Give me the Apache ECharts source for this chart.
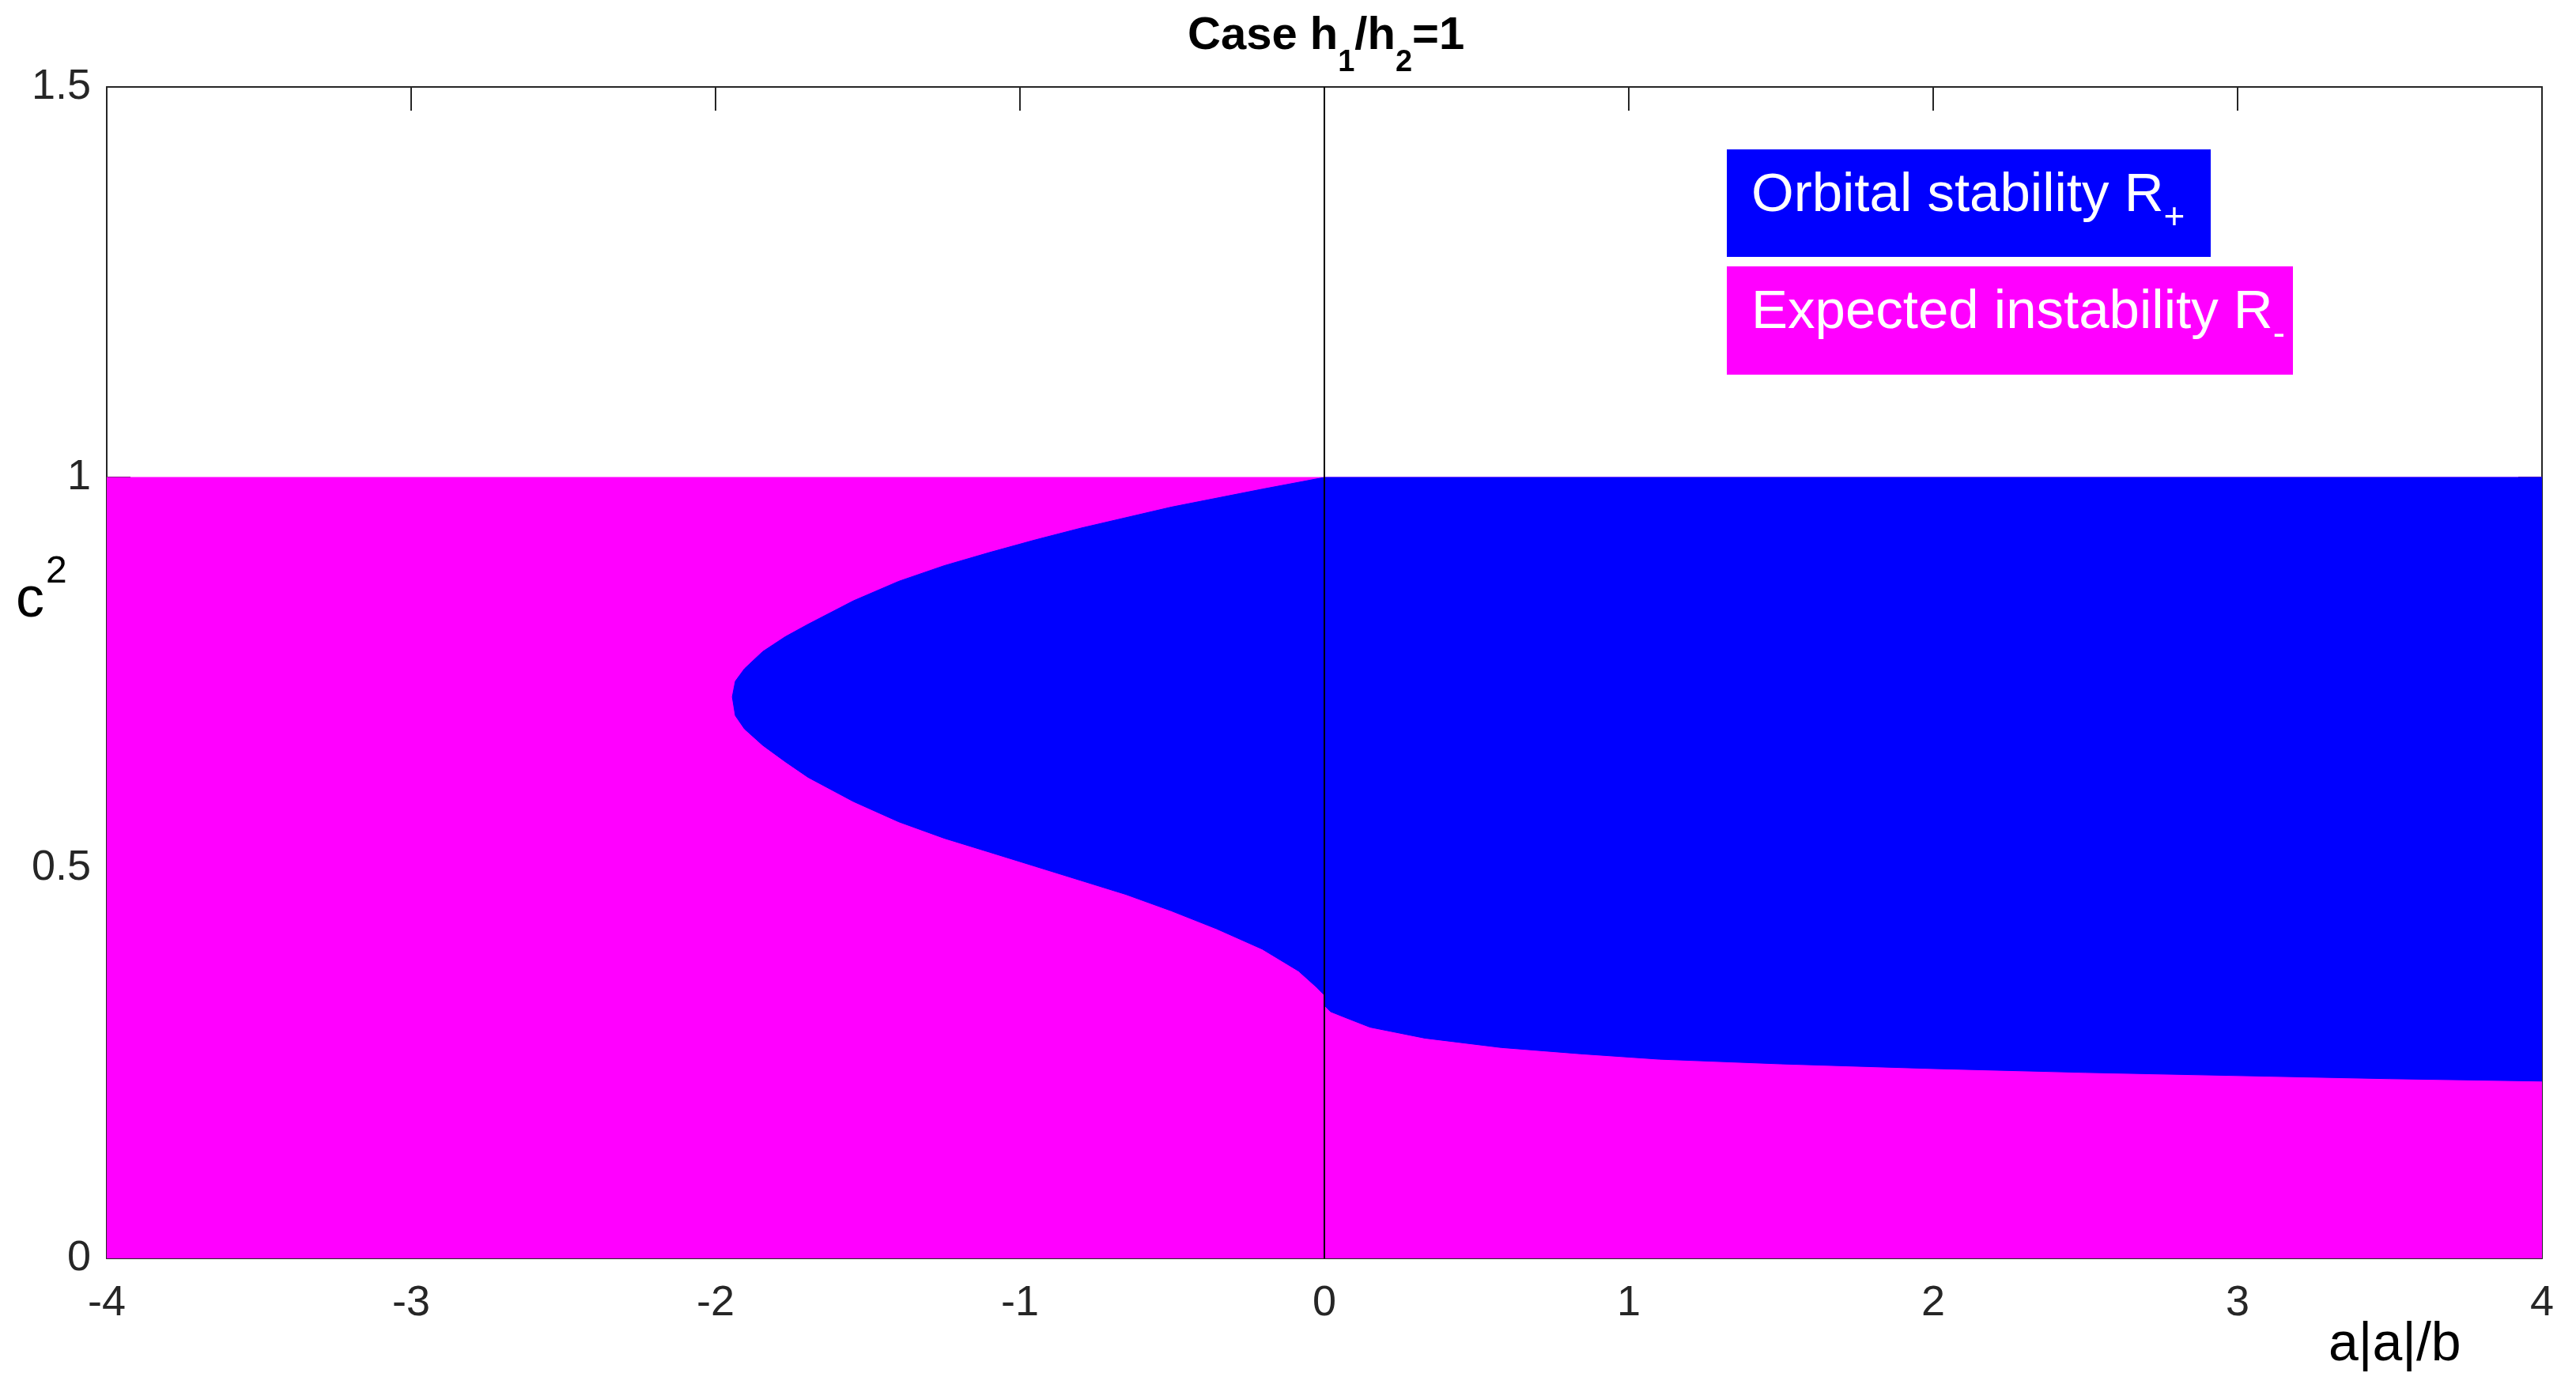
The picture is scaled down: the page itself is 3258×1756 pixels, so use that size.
<!DOCTYPE html>
<html>
<head>
<meta charset="utf-8">
<script src="https://cdn.jsdelivr.net/npm/echarts@6/dist/echarts.min.js"></script>
<style>
html,body{margin:0;padding:0;background:#fff;}
#chart{width:3258px;height:1756px;}
</style>
</head>
<body>
<div id="chart"></div>
<script>
// ---- data ----
const xTicks = [-4, -3, -2, -1, 0, 1, 2, 3, 4];
const yTicks = [0, 0.5, 1, 1.5];

// region where c^2 <= 1 (expected instability background)
const fullX = [-4, 4];
const fullTop = [1, 1];
const fullBottom = [0, 0];

// R+ boundary, upper-left branch (from (0,1) to the nose)
const upperLeftX = [0, -0.204, -0.503, -0.801, -0.950, -1.099, -1.249, -1.398, -1.547, -1.696, -1.771, -1.845, -1.905, -1.935, -1.945];
const upperLeftY = [1.000, 0.985, 0.962, 0.935, 0.920, 0.904, 0.887, 0.867, 0.842, 0.812, 0.796, 0.777, 0.755, 0.739, 0.719];
// R+ boundary, lower-left branch (from the nose to x=0)
const lowerLeftX = [-1.945, -1.935, -1.905, -1.845, -1.771, -1.696, -1.547, -1.398, -1.249, -1.099, -0.950, -0.801, -0.652, -0.503, -0.354, -0.204, -0.085, -0.025, 0];
const lowerLeftY = [0.719, 0.695, 0.678, 0.657, 0.636, 0.616, 0.585, 0.559, 0.538, 0.520, 0.502, 0.484, 0.466, 0.445, 0.422, 0.396, 0.368, 0.347, 0.337];
// R+ lower boundary for a|a|/b > 0
const rightX = [0, 0.02, 0.065, 0.15, 0.33, 0.58, 0.84, 1.1, 1.5, 2, 2.5, 3, 3.5, 4];
const rightY = [0.324, 0.316, 0.309, 0.296, 0.282, 0.270, 0.262, 0.255, 0.249, 0.243, 0.238, 0.234, 0.230, 0.227];
const topEdgeX = [4, 0];
const topEdgeY = [1, 1];

const zeroLineX = [0, 0];
const zeroLineY = [0, 1.5];

// ---- build polygons ----
function pairs(xs, ys) { return xs.map((x, i) => [x, ys[i]]); }
const magentaPoly = pairs(fullX, fullBottom).concat(pairs(fullX.slice().reverse(), fullTop));
const bluePoly = pairs(topEdgeX, topEdgeY)
  .concat(pairs(upperLeftX, upperLeftY))
  .concat(pairs(lowerLeftX, lowerLeftY))
  .concat(pairs(rightX, rightY));

const FONT = "'Liberation Sans', Arial, Helvetica, sans-serif";
const GRAY = '#262626';

function polySeries(poly, color, z) {
  return {
    type: 'custom',
    z: z,
    silent: true,
    data: [0],
    clip: true,
    renderItem: function (params, api) {
      const pts = poly.map(p => api.coord(p));
      return {
        type: 'polygon',
        shape: { points: pts },
        style: { fill: color, stroke: color, lineWidth: 1 }
      };
    }
  };
}

const chart = echarts.init(document.getElementById('chart'), null, { renderer: 'canvas' });

function axis(extra) {
  return Object.assign({
    type: 'value',
    axisLine: { show: true, onZero: false, lineStyle: { color: GRAY, width: 2 } },
    axisTick: { show: true, inside: true, length: 30, lineStyle: { color: GRAY, width: 2 } },
    splitLine: { show: false }
  }, extra);
}

chart.setOption({
  animation: false,
  backgroundColor: '#fff',
  title: {
    text: '{m|Case h}{s|1}{m|/h}{s|2}{m|=1}',
    left: 1497,
    top: 12,
    textStyle: {
      rich: {
        m: { fontFamily: FONT, fontWeight: 'bold', fontSize: 58, color: '#000', lineHeight: 58, verticalAlign: 'top' },
        s: { fontFamily: FONT, fontWeight: 'bold', fontSize: 38, color: '#000', lineHeight: 38, verticalAlign: 'top', padding: [44, 0, 0, 0] }
      }
    }
  },
  grid: { left: 135, right: 43, top: 110, bottom: 164, containLabel: false },
  xAxis: [
    axis({
      min: -4, max: 4, interval: 1, position: 'bottom',
      axisLabel: { show: true, margin: 30, fontSize: 54, color: GRAY, fontFamily: FONT,
        formatter: v => xTicks.includes(v) ? String(v) : '' }
    }),
    axis({
      min: -4, max: 4, interval: 1, position: 'top',
      axisLabel: { show: false }
    })
  ],
  yAxis: [
    axis({
      min: 0, max: 1.5, interval: 0.5, position: 'left',
      axisLabel: { show: true, margin: 20, fontSize: 54, color: GRAY, fontFamily: FONT,
        formatter: v => yTicks.includes(v) ? String(v) : '' }
    }),
    axis({
      min: 0, max: 1.5, interval: 0.5, position: 'right',
      axisLabel: { show: false }
    })
  ],
  series: [
    polySeries(magentaPoly, '#FF00FF', 2),
    polySeries(bluePoly, '#0000FF', 3),
    {
      type: 'line', z: 5, silent: true, symbol: 'none',
      data: pairs(zeroLineX, zeroLineY),
      lineStyle: { color: '#000', width: 2 }
    }
  ],
  graphic: [
    {
      type: 'text', left: 20, top: 700,
      style: {
        text: '{m|c}{p|2}',
        rich: {
          m: { fontFamily: FONT, fontSize: 72, fill: '#000', lineHeight: 72, verticalAlign: 'top', padding: [24, 0, 0, 0] },
          p: { fontFamily: FONT, fontSize: 48, fill: '#000', lineHeight: 48, verticalAlign: 'top', padding: [0, 0, 0, 2] }
        }
      }
    },
    {
      type: 'text', left: 2945, top: 1668,
      style: { text: 'a|a|/b', fontFamily: FONT, fontSize: 68, fill: '#000' }
    },
    { type: 'rect', shape: { x: 2184, y: 189, width: 612, height: 136 }, style: { fill: '#0000FF' }, z: 10 },
    {
      type: 'text', x: 2215, y: 213, z: 11,
      style: {
        text: '{m|Orbital stability R}{s|+}',
        rich: {
          m: { fontFamily: FONT, fontSize: 69, fill: '#fff', lineHeight: 69, verticalAlign: 'top' },
          s: { fontFamily: FONT, fontSize: 46, fill: '#fff', lineHeight: 46, verticalAlign: 'top', padding: [40, 0, 0, 0] }
        }
      }
    },
    { type: 'rect', shape: { x: 2184, y: 337, width: 716, height: 137 }, style: { fill: '#FF00FF' }, z: 10 },
    {
      type: 'text', x: 2215, y: 361, z: 11,
      style: {
        text: '{m|Expected instability R}{s|-}',
        rich: {
          m: { fontFamily: FONT, fontSize: 69, fill: '#fff', lineHeight: 69, verticalAlign: 'top' },
          s: { fontFamily: FONT, fontSize: 46, fill: '#fff', lineHeight: 46, verticalAlign: 'top', padding: [40, 0, 0, 0] }
        }
      }
    }
  ]
});
</script>
</body>
</html>
